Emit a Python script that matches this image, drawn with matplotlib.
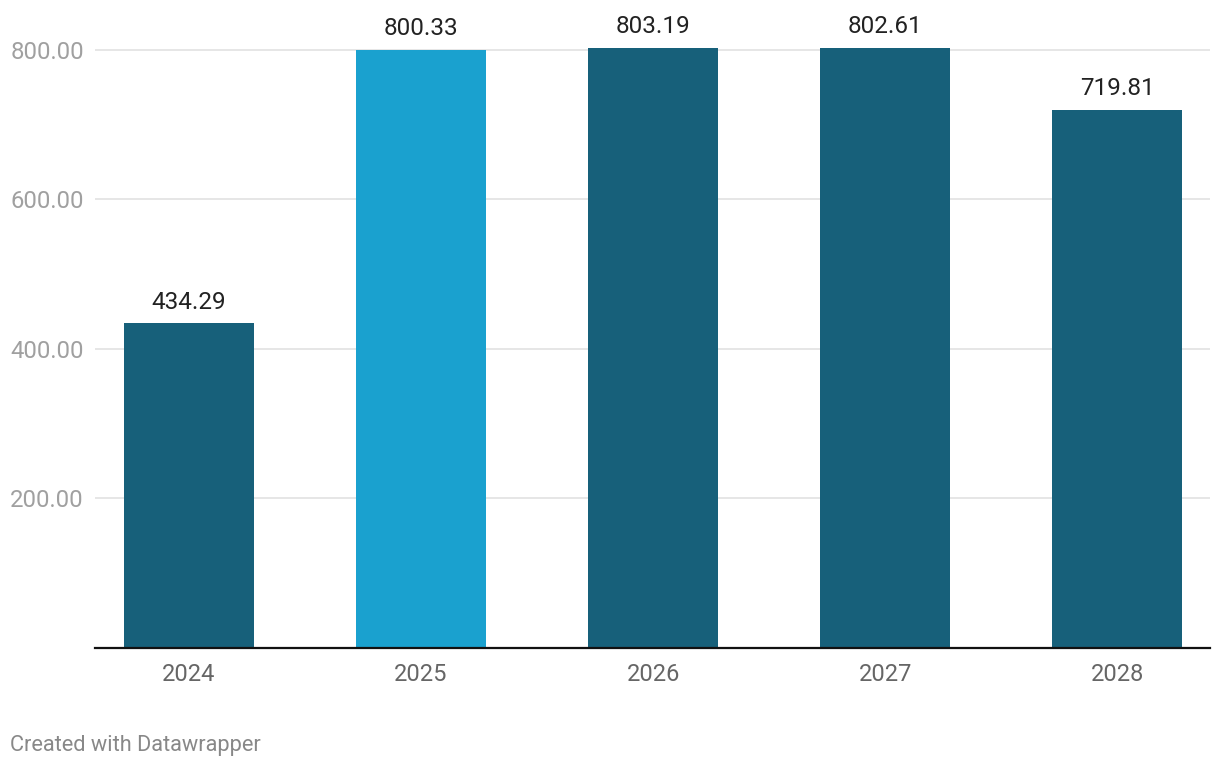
import matplotlib.pyplot as plt

years = ['2024', '2025', '2026', '2027', '2028']
values = [434.29, 800.33, 803.19, 802.61, 719.81]
colors = ['#17607a', '#1aa1cf', '#17607a', '#17607a', '#17607a']
yticks = [200, 400, 600, 800]

plt.rcParams['font.family'] = ['Roboto', 'DejaVu Sans']

fig = plt.figure(figsize=(12.2, 7.7), dpi=100)
ax = fig.add_axes([95 / 1220, 122 / 770, 1115 / 1220, 638 / 770])

x = range(len(years))
ax.bar(x, values, width=0.56, color=colors, zorder=2)

for xi, v in zip(x, values):
    ax.annotate(f'{v:.2f}', (xi, v), xytext=(0, 7), textcoords='offset points',
                ha='center', va='bottom', fontsize=17.5, color='#222222')

ax.set_xlim(-0.405, 4.4)
ax.set_ylim(0, 853.5)
ax.set_yticks(yticks)
ax.set_yticklabels([f'{t:.2f}' for t in yticks])
ax.set_xticks(list(x))
ax.set_xticklabels(years)

ax.grid(axis='y', color='#e2e2e2', linewidth=1.2, zorder=0)
ax.tick_params(axis='y', length=0, pad=8, labelsize=17.2, labelcolor='#a0a0a0')
ax.tick_params(axis='x', length=0, pad=11, labelsize=17, labelcolor='#666666')

for side in ['top', 'right', 'left']:
    ax.spines[side].set_visible(False)
ax.spines['bottom'].set_color('#111111')
ax.spines['bottom'].set_linewidth(1.6)
ax.spines['bottom'].set_zorder(3)

fig.text(10 / 1220, 1 - 746 / 770, 'Created with Datawrapper', ha='left', va='center',
         fontsize=15.7, color='#888888')

fig.savefig('out.png', dpi=100)
